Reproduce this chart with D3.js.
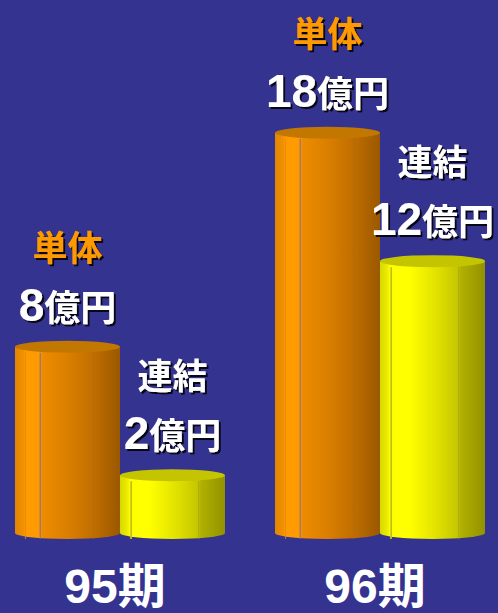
<!DOCTYPE html>
<html>
<head>
<meta charset="utf-8">
<script src="https://cdn.jsdelivr.net/npm/d3@7"></script>
<style>
  html, body { margin: 0; padding: 0; background: #343390; }
  svg { display: block; }
</style>
</head>
<body>
<div id="chart"></div>
<script>
// data
const periods = ["95期", "96期"];
const series = ["単体", "連結"];
const tantai = [8, 18];      // 単体, 億円
const renketsu = [2, 12];    // 連結, 億円
const unit = "億円";

const width = 498, height = 613;
const baseY = 533;
const font = "'Liberation Sans', 'Noto Sans CJK JP', sans-serif";

const svg = d3.select("#chart").append("svg")
  .attr("width", width)
  .attr("height", height);

svg.append("rect").attr("width", width).attr("height", height).attr("fill", "#343390");

const defs = svg.append("defs");

// dark drop shadow under the labels
const f = defs.append("filter").attr("id", "shadow")
  .attr("x", "-10%").attr("y", "-10%").attr("width", "130%").attr("height", "130%");
f.append("feDropShadow")
  .attr("dx", 2).attr("dy", 2)
  .attr("stdDeviation", 0.4)
  .attr("flood-color", "#000")
  .attr("flood-opacity", 0.85);

// gradients for the cylinder bodies
const grads = {
  "単体": [[0, "#e08600"], [0.08, "#f29000"], [0.1, "#ff9a00"], [0.24, "#ff9a00"], [0.26, "#ee8c00"], [0.5, "#da7f00"], [0.75, "#c06e00"], [1, "#9a5800"]],
  "連結": [[0, "#d8d800"], [0.06, "#e8e800"], [0.1, "#ffff00"], [0.28, "#ffff00"], [0.55, "#e0e000"], [0.75, "#c4c400"], [0.77, "#b0b000"], [1, "#929200"]]
};
const topColor = { "単体": "#c27800", "連結": "#c4c400" };
const textColor = { "単体": "#ff9900", "連結": "#ffffff" };

series.forEach((s, i) => {
  const g = defs.append("linearGradient").attr("id", "grad" + i)
    .attr("x1", "0%").attr("x2", "100%").attr("y1", "0%").attr("y2", "0%");
  grads[s].forEach(st => g.append("stop").attr("offset", st[0]).attr("stop-color", st[1]));
});

const x0 = d3.scaleBand()
  .domain(periods)
  .range([15, 485])
  .paddingInner(0.1923);

const x1 = d3.scaleBand()
  .domain(series)
  .range([0, x0.bandwidth()]);

const y = d3.scaleLinear()
  .domain([0, 18])
  .range([518, 132.7]);

const data = [];
periods.forEach((p, i) => {
  data.push({ period: p, series: "単体", value: tantai[i] });
  data.push({ period: p, series: "連結", value: renketsu[i] });
});

const ry = 6;

const bars = svg.selectAll("g.bar")
  .data(data)
  .enter()
  .append("g")
  .attr("class", "bar");

// body
bars.append("path")
  .attr("d", d => {
    const xl = x0(d.period) + x1(d.series);
    const rx = x1.bandwidth() / 2;
    const xr = xl + x1.bandwidth();
    const yt = y(d.value);
    return `M${xl},${yt} L${xl},${baseY} A${rx},${ry} 0 0 0 ${xr},${baseY} L${xr},${yt} Z`;
  })
  .attr("fill", d => "url(#grad" + series.indexOf(d.series) + ")");

// thin facet lines
const facets = [
  { at: { "単体": 0.24, "連結": 0.11 }, col: { "単体": "#7a6aa0", "連結": "#b8b830" }, op: 1 },
  { at: { "単体": 0.1, "連結": 0.1 }, col: { "単体": "#e08a10", "連結": "#d0d000" }, op: 0.8 },
  { at: { "単体": 0.75, "連結": 0.75 }, col: { "単体": "#b06a10", "連結": "#a0a020" }, op: 0.8 }
];
facets.forEach(fc => {
  bars.append("line")
    .attr("x1", d => x0(d.period) + x1(d.series) + x1.bandwidth() * fc.at[d.series])
    .attr("x2", d => x0(d.period) + x1(d.series) + x1.bandwidth() * fc.at[d.series])
    .attr("y1", d => y(d.value) + ry)
    .attr("y2", baseY + ry)
    .attr("stroke", d => fc.col[d.series])
    .attr("stroke-width", 1)
    .attr("opacity", fc.op);
});

// top ellipse
bars.append("ellipse")
  .attr("cx", d => x0(d.period) + x1(d.series) + x1.bandwidth() / 2)
  .attr("cy", d => y(d.value))
  .attr("rx", x1.bandwidth() / 2)
  .attr("ry", ry)
  .attr("fill", d => topColor[d.series]);

// value labels
const valueText = bars.append("text")
  .attr("x", d => x0(d.period) + x1(d.series) + x1.bandwidth() / 2)
  .attr("y", d => y(d.value) - 26)
  .attr("text-anchor", "middle")
  .attr("font-family", font)
  .attr("font-weight", "bold")
  .attr("fill", "#fff")
  .attr("filter", "url(#shadow)");
valueText.append("tspan").attr("font-size", 46).text(d => d.value);
valueText.append("tspan").attr("font-size", 36).text(unit);

// series labels
bars.append("text")
  .attr("x", d => x0(d.period) + x1(d.series) + x1.bandwidth() / 2)
  .attr("y", d => y(d.value) - 26 - 60)
  .attr("text-anchor", "middle")
  .attr("font-family", font)
  .attr("font-weight", "bold")
  .attr("font-size", 35)
  .attr("fill", d => textColor[d.series])
  .attr("filter", "url(#shadow)")
  .text(d => d.series);

// period labels
svg.selectAll("text.period")
  .data(periods)
  .enter()
  .append("text")
  .attr("class", "period")
  .attr("x", d => x0(d) + x0.bandwidth() / 2 - 5)
  .attr("y", 603)
  .attr("text-anchor", "middle")
  .attr("font-family", font)
  .attr("font-weight", "bold")
  .attr("font-size", 48)
  .attr("fill", "#fff")
  .text(d => d);
</script>
</body>
</html>
